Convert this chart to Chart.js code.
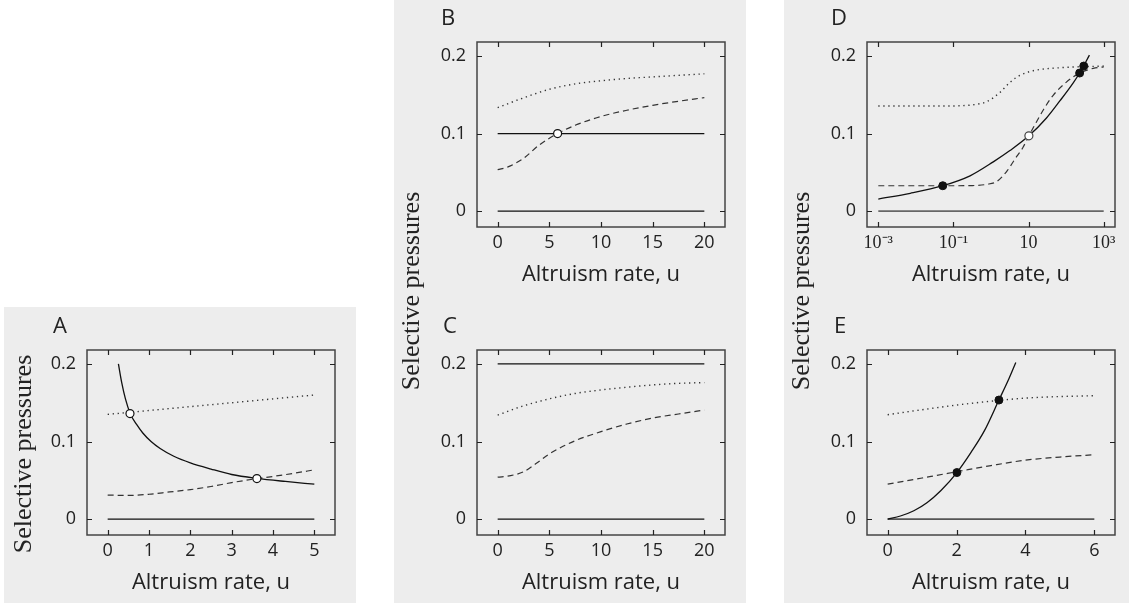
<!DOCTYPE html>
<html>
<head>
<meta charset="utf-8">
<script src="https://cdn.jsdelivr.net/npm/chart.js@4.4.1/dist/chart.umd.min.js"></script>
<style>
  body { margin: 0; width: 1129px; height: 606px; overflow: hidden; background: #fff; position: relative; font-family: 'Open Sans', sans-serif; }
  .bg { position: absolute; background: #ededed; }
  canvas { position: absolute; }
  .letter { position: absolute; font-size: 22px; line-height: 22px; color: #222; }
  .ytitle { position: absolute; width: 300px; height: 30px; line-height: 30px; text-align: center;
            font-family: 'Liberation Serif', serif; font-size: 26px; color: #222; transform: rotate(-90deg); }
</style>
</head>
<body>
<div class="bg" style="left:4px;top:307px;width:352px;height:296px"></div>
<div class="bg" style="left:394px;top:0;width:352px;height:603px"></div>
<div class="bg" style="left:784px;top:0;width:345px;height:603px"></div>

<canvas id="chartA" width="352" height="296" style="left:4px;top:308px"></canvas>
<canvas id="chartB" width="352" height="296" style="left:394px;top:0"></canvas>
<canvas id="chartC" width="352" height="296" style="left:394px;top:308px"></canvas>
<canvas id="chartD" width="352" height="296" style="left:784px;top:0"></canvas>
<canvas id="chartE" width="352" height="296" style="left:784px;top:308px"></canvas>

<div class="letter" style="left:53px;top:313px">A</div>
<div class="letter" style="left:441px;top:5px">B</div>
<div class="letter" style="left:443px;top:313px">C</div>
<div class="letter" style="left:831px;top:5px">D</div>
<div class="letter" style="left:834px;top:313px">E</div>

<div class="ytitle" style="left:-127px;top:439px">Selective pressures</div>
<div class="ytitle" style="left:261px;top:276px">Selective pressures</div>
<div class="ytitle" style="left:651px;top:276px">Selective pressures</div>

<script>
// axis ticks
const yTicks = [0, 0.1, 0.2];
const yTickLabels = ['0', '0.1', '0.2'];
const aTicks = [0, 1, 2, 3, 4, 5];
const bcTicks = [0, 5, 10, 15, 20];
const dTicks = [0.001, 0.1, 10, 1000];
const dTickLabels = ['10\u207B\u00B3', '10\u207B\u00B9', '10', '10\u00B3'];
const eTicks = [0, 2, 4, 6];

// panel A
const aSolidU = [0.26, 0.34, 0.43, 0.55, 0.7, 0.85, 1.05, 1.27, 1.6, 2.0, 2.5, 3.0, 3.61, 4.3, 5.0];
const aSolid = [0.200, 0.176, 0.155, 0.1355, 0.122, 0.111, 0.100, 0.091, 0.081, 0.0725, 0.0645, 0.0575, 0.0525, 0.0485, 0.045];
const aDotU = [0, 1, 2, 3, 4, 5];
const aDot = [0.135, 0.140, 0.145, 0.150, 0.155, 0.160];
const aDashU = [0, 0.5, 1, 1.5, 2, 2.5, 3, 3.61, 4, 4.5, 5];
const aDash = [0.031, 0.0305, 0.032, 0.035, 0.038, 0.042, 0.047, 0.0522, 0.055, 0.059, 0.0635];
const aZeroU = [0, 5];
const aZero = [0, 0];
const aOpenU = [0.54, 3.61];
const aOpen = [0.136, 0.0522];

// panel B
const bDotU = [0, 2.5, 5, 7.5, 10, 12.5, 15, 17.5, 20];
const bDot = [0.1334, 0.146, 0.157, 0.164, 0.168, 0.171, 0.173, 0.175, 0.177];
const bDashU = [0, 1, 2.5, 4, 5.8, 7.5, 10, 12.5, 15, 17.5, 20];
const bDash = [0.0534, 0.057, 0.068, 0.085, 0.100, 0.1106, 0.122, 0.130, 0.1364, 0.1416, 0.1463];
const bFlatU = [0, 20];
const bFlat = [0.1, 0.1];
const bZero = [0, 0];
const bOpenU = [5.8];
const bOpen = [0.1];

// panel C
const cDotU = [0, 2.5, 5, 7.5, 10, 12.5, 15, 17.5, 20];
const cDot = [0.134, 0.146, 0.155, 0.162, 0.1665, 0.170, 0.173, 0.175, 0.176];
const cDashU = [0, 1.25, 2.5, 3.75, 5, 7.5, 10, 12.5, 15, 17.5, 20];
const cDash = [0.054, 0.056, 0.061, 0.072, 0.084, 0.101, 0.1127, 0.1226, 0.1303, 0.1355, 0.1406];
const cFlatU = [0, 20];
const cFlat = [0.2, 0.2];
const cZero = [0, 0];

// panel D (log u)
const dDotU = [0.001, 0.01, 0.1, 0.15, 0.28, 0.45, 0.77, 1.73, 3.2, 5.9, 13.3, 68, 1000];
const dDot = [0.1355, 0.1355, 0.1355, 0.1358, 0.1366, 0.138, 0.141, 0.153, 0.166, 0.175, 0.181, 0.1848, 0.187];
const dDashU = [0.001, 0.1, 0.32, 0.77, 1.41, 2.51, 4.47, 7.08, 10.2, 15.8, 25.1, 44.7, 100, 229, 525, 1000];
const dDash = [0.0327, 0.0327, 0.0329, 0.0345, 0.038, 0.050, 0.068, 0.082, 0.097, 0.114, 0.131, 0.149, 0.166, 0.178, 0.184, 0.186];
const dSolidU = [0.001, 0.0071, 0.052, 0.277, 1.15, 3.19, 10.2, 30, 68, 153, 229, 417];
const dSolid = [0.0155, 0.0229, 0.0327, 0.0455, 0.0635, 0.078, 0.097, 0.120, 0.142, 0.165, 0.178, 0.201];
const dZeroU = [0.001, 1000];
const dZero = [0, 0];
const dFilledU = [0.052, 229, 295];
const dFilled = [0.0327, 0.178, 0.187];
const dOpenU = [10.2];
const dOpen = [0.097];

// panel E
const eDotU = [0, 1, 2, 3, 4, 5, 6];
const eDot = [0.1346, 0.141, 0.147, 0.152, 0.156, 0.158, 0.159];
const eDash = [0.045, 0.053, 0.061, 0.069, 0.076, 0.080, 0.083];
const eSolidU = [0, 0.37, 0.76, 1.15, 1.54, 2.01, 2.42, 2.81, 3.23, 3.49, 3.72];
const eSolid = [0, 0.004, 0.0108, 0.0215, 0.0366, 0.060, 0.086, 0.114, 0.1535, 0.178, 0.202];
const eZeroU = [0, 6];
const eZero = [0, 0];
const eFilledU = [2.01, 3.23];
const eFilled = [0.060, 0.1535];

Chart.defaults.font.family = "'Open Sans', sans-serif";
Chart.defaults.color = '#222';

const pts = (xs, ys) => xs.map((x, i) => ({ x: x, y: ys[i] }));

const solid = (data, color, w) => ({ data, showLine: true, borderColor: color || '#111', borderWidth: w || 1.3,
  pointRadius: 0, cubicInterpolationMode: 'monotone' });
const dotted = data => ({ data, showLine: true, borderColor: '#333', borderWidth: 1.4, borderDash: [1.3, 3.7],
  pointRadius: 0, cubicInterpolationMode: 'monotone' });
const dashed = data => ({ data, showLine: true, borderColor: '#333', borderWidth: 1.2, borderDash: [6, 4],
  pointRadius: 0, cubicInterpolationMode: 'monotone' });
const openDots = (data, color) => ({ data, showLine: false, pointRadius: 4, pointBackgroundColor: '#fff',
  pointBorderColor: color || '#111', pointBorderWidth: 1.2 });
const filledDots = data => ({ data, showLine: false, pointRadius: 4, pointBackgroundColor: '#111',
  pointBorderColor: '#111', pointBorderWidth: 1 });

// box round the plot with inward ticks on all four sides
const framePlugin = {
  id: 'frame',
  afterDraw(chart) {
    const { ctx, chartArea: a, scales: { x, y } } = chart;
    ctx.save();
    ctx.strokeStyle = '#444';
    ctx.lineWidth = 1.5;
    ctx.strokeRect(a.left, a.top, a.width, a.height);
    ctx.strokeStyle = '#222';
    ctx.lineWidth = 1.2;
    ctx.beginPath();
    x.ticks.forEach(t => {
      const px = Math.round(x.getPixelForValue(t.value)) + 0.5;
      ctx.moveTo(px, a.bottom); ctx.lineTo(px, a.bottom - 5);
      ctx.moveTo(px, a.top); ctx.lineTo(px, a.top + 5);
    });
    y.ticks.forEach(t => {
      const py = Math.round(y.getPixelForValue(t.value)) + 0.5;
      ctx.moveTo(a.left, py); ctx.lineTo(a.left + 5, py);
      ctx.moveTo(a.right, py); ctx.lineTo(a.right - 5, py);
    });
    ctx.stroke();
    ctx.restore();
  }
};

function makeChart(id, xScale, datasets) {
  const xTicks = xScale.ticks;
  const xLabels = xScale.labels;
  new Chart(document.getElementById(id), {
    type: 'scatter',
    data: { datasets },
    plugins: [framePlugin],
    options: {
      responsive: false,
      animation: false,
      events: [],
      layout: { padding: { left: 0, top: 42, right: 21, bottom: 0 } },
      plugins: { legend: { display: false }, tooltip: { enabled: false } },
      scales: {
        x: {
          type: xScale.type || 'linear',
          min: xScale.min,
          max: xScale.max,
          afterBuildTicks: s => { s.ticks = xTicks.map(v => ({ value: v })); },
          afterFit: s => { s.height = 69; },
          grid: { display: false, drawTicks: false },
          border: { display: false },
          ticks: {
            padding: 5, maxRotation: 0, autoSkip: false,
            font: xScale.font || { size: 18 },
            callback: (v, i) => xLabels ? xLabels[i] : String(xTicks[i])
          },
          title: { display: true, text: 'Altruism rate, u', font: { size: 22 }, color: '#222',
                   padding: { top: 0, bottom: 8 } }
        },
        y: {
          min: -0.0205,
          max: 0.218,
          afterBuildTicks: s => { s.ticks = yTicks.map(v => ({ value: v })); },
          afterFit: s => { s.width = 83; },
          grid: { display: false, drawTicks: false },
          border: { display: false },
          ticks: { padding: 11, font: { size: 18 }, callback: (v, i) => yTickLabels[i] }
        }
      }
    }
  });
}

makeChart('chartA', { min: -0.5, max: 5.5, ticks: aTicks }, [
  openDots(pts(aOpenU, aOpen)),
  solid(pts(aSolidU, aSolid)),
  dotted(pts(aDotU, aDot)),
  dashed(pts(aDashU, aDash)),
  solid(pts(aZeroU, aZero))
]);

makeChart('chartB', { min: -2, max: 22, ticks: bcTicks }, [
  openDots(pts(bOpenU, bOpen)),
  solid(pts(bFlatU, bFlat)),
  dotted(pts(bDotU, bDot)),
  dashed(pts(bDashU, bDash)),
  solid(pts(bFlatU, bZero))
]);

makeChart('chartC', { min: -2, max: 22, ticks: bcTicks }, [
  solid(pts(cFlatU, cFlat)),
  dotted(pts(cDotU, cDot)),
  dashed(pts(cDashU, cDash)),
  solid(pts(cFlatU, cZero))
]);

makeChart('chartD', { type: 'logarithmic', min: 0.0005, max: 2000, ticks: dTicks, labels: dTickLabels,
                      font: { family: "'Liberation Serif', serif", size: 18 } }, [
  filledDots(pts(dFilledU, dFilled)),
  openDots(pts(dOpenU, dOpen), '#444'),
  solid(pts(dSolidU, dSolid)),
  dotted(pts(dDotU, dDot)),
  dashed(pts(dDashU, dDash)),
  solid(pts(dZeroU, dZero), '#666', 1.8)
]);

makeChart('chartE', { min: -0.6, max: 6.6, ticks: eTicks }, [
  filledDots(pts(eFilledU, eFilled)),
  solid(pts(eSolidU, eSolid)),
  dotted(pts(eDotU, eDot)),
  dashed(pts(eDotU, eDash)),
  solid(pts(eZeroU, eZero), '#555', 1.6)
]);
</script>
</body>
</html>
